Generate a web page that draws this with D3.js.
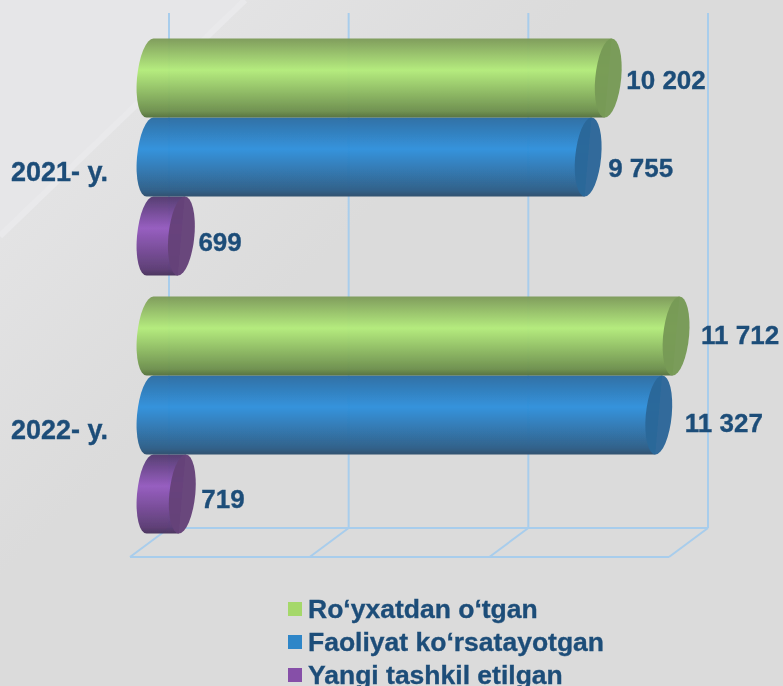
<!DOCTYPE html>
<html>
<head>
<meta charset="utf-8">
<script src="https://cdn.jsdelivr.net/npm/d3@7/dist/d3.min.js"></script>
<style>
html, body { margin: 0; padding: 0; background: #dbdbdb; overflow: hidden; }
svg { display: block; }
text { font-family: "Liberation Sans", Arial, sans-serif; font-weight: bold; fill: #1f4e79; stroke: #1f4e79; stroke-width: 0.35px; }
</style>
</head>
<body>
<script>
"use strict";

// data
const years = ["2021- y.", "2022- y."];
const seriesNames = ["Ro‘yxatdan o‘tgan", "Faoliyat ko‘rsatayotgan", "Yangi tashkil etilgan"];
const registered = [10202, 11712];
const active = [9755, 11327];
const newlyCreated = [699, 719];
const gridTicks = [0, 4000, 8000, 12000];

const seriesValues = [registered, active, newlyCreated];

//gradient stops per series: shadow top, light middle, shadow bottom, end cap, legend
const palettes = [
	["#7c9a58", "#b3ec7a", "#54703c", "#779a56", "#a5d86a"],
	["#2a6ca3", "#2e90dc", "#2b4c6b", "#2b6799", "#2e86c8"],
	["#51386e", "#9459bf", "#46305a", "#654279", "#8650a8"]
];

//the labels were moved by hand in the original, so they do not sit at a fixed gap
const labelNudge = [
	[[5, 2], [7, 11], [4, 6]],
	[[12, -1], [13, 8], [6, 5]]
];

const width = 783, height = 686;

let x = d3.scaleLinear().domain([0, 12000]).range([150, 689]);
let y0 = d3.scaleBand().domain(d3.range(years.length)).range([28, 544]);
let y1 = d3.scaleBand().domain(d3.range(seriesNames.length))
	.range([0, y0.bandwidth()]).paddingInner(0).paddingOuter(0.133);

const fmt = d3.formatLocale({ thousands: " ", grouping: [3], decimal: ".", currency: ["", ""] }).format(",d");

const svg = d3.select("body").append("svg")
	.attr("width", width)
	.attr("height", height);
const defs = svg.append("defs");

//background, fades away from the diagonal band
let bg = defs.append("linearGradient").attr("id", "bg-low")
	.attr("gradientUnits", "userSpaceOnUse")
	.attr("x1", 120).attr("y1", 118).attr("x2", 290).attr("y2", 290);
bg.append("stop").attr("offset", 0).attr("stop-color", "#e3e3e4");
bg.append("stop").attr("offset", 1).attr("stop-color", "#dbdbdb");

let blur = defs.append("filter").attr("id", "soft");
blur.append("feGaussianBlur").attr("stdDeviation", 0.45);

let root = svg.append("g").attr("filter", "url(#soft)");
root.append("rect").attr("width", width).attr("height", height).attr("fill", "url(#bg-low)");
root.append("path").attr("d", d3.line()([[0, 0], [245, 0], [0, 236]])).attr("fill", "#e6e6e8");
root.append("path").attr("d", d3.line()([[245, 0], [0, 236]]))
	.attr("stroke", "#e9e9eb").attr("stroke-width", 6).attr("fill", "none");

//gradients
palettes.forEach(function(p, i)
{
	let g = defs.append("linearGradient").attr("id", "bar" + i)
		.attr("x1", 0).attr("y1", 0).attr("x2", 0).attr("y2", 1);
	g.append("stop").attr("offset", 0).attr("stop-color", p[0]);
	g.append("stop").attr("offset", 0.4).attr("stop-color", p[1]);
	g.append("stop").attr("offset", 0.92).attr("stop-color", d3.interpolateRgb(p[1], p[2])(0.75));
	g.append("stop").attr("offset", 1).attr("stop-color", p[2]);
});

//grid box, back wall is 19px right of the value and the floor front 20px left
const gridColor = "#a8cdec";
const backTop = 13, backBase = 528, frontBase = 557;
let grid = root.append("g").attr("stroke", gridColor).attr("stroke-width", 2).attr("fill", "none");
for (let t of gridTicks)
{
	grid.append("line")
		.attr("x1", x(t) + 19).attr("x2", x(t) + 19)
		.attr("y1", backTop).attr("y2", backBase);
	grid.append("line")
		.attr("x1", x(t) + 19).attr("x2", x(t) - 20)
		.attr("y1", backBase).attr("y2", frontBase);
}
grid.append("line").attr("x1", x(0) + 19).attr("x2", x(12000) + 19).attr("y1", backBase).attr("y2", backBase);
grid.append("line").attr("x1", x(0) - 20).attr("x2", x(12000) - 20).attr("y1", frontBase).attr("y2", frontBase);

//cylinders, bottom one first so the upper one lies on top
const rx = 13;
years.forEach(function(year, yi)
{
	for (let si = seriesNames.length - 1; si >= 0; --si)
	{
		let v = seriesValues[si][yi];
		let ry = y1.bandwidth() / 2;
		let cy = y0(yi) + y1(si) + ry;
		let bar = root.append("g")
			.attr("transform", "translate(0," + cy + ") skewX(-5)");
		let left = x(0);
		let body = d3.path();
		body.moveTo(left, -ry);
		body.lineTo(x(v), -ry);
		body.lineTo(x(v), ry);
		body.lineTo(left, ry);
		bar.append("path")
			.attr("d", body.toString() + " A" + rx + "," + ry + " 0 0 1 " + left + "," + (-ry) + "Z")
			.attr("fill", "url(#bar" + si + ")")
			.attr("fill-opacity", 0.96);
		bar.append("ellipse")
			.attr("cx", x(v))
			.attr("rx", rx)
			.attr("ry", ry)
			.attr("fill", palettes[si][3])
			.attr("fill-opacity", 0.97);
	}
});

//value labels
years.forEach(function(year, yi)
{
	seriesNames.forEach(function(name, si)
	{
		let v = seriesValues[si][yi];
		root.append("text")
			.attr("x", x(v) + rx + labelNudge[yi][si][0])
			.attr("y", y0(yi) + y1(si) + y1.bandwidth() / 2 + labelNudge[yi][si][1] + 9)
			.attr("font-size", 26)
			.text(fmt(v));
	});
	root.append("text")
		.attr("x", 11)
		.attr("y", y0(yi) + y0.bandwidth() / 2 + 24)
		.attr("font-size", 27)
		.text(year);
});

//legend
let legendY = d3.scalePoint().domain(d3.range(seriesNames.length)).range([618, 684]);
seriesNames.forEach(function(name, si)
{
	root.append("rect")
		.attr("x", 288).attr("y", legendY(si) - 16)
		.attr("width", 14).attr("height", 14)
		.attr("fill", palettes[si][4]);
	root.append("text")
		.attr("x", 308).attr("y", legendY(si))
		.attr("font-size", 26.5)
		.text(name);
});
</script>
</body>
</html>
